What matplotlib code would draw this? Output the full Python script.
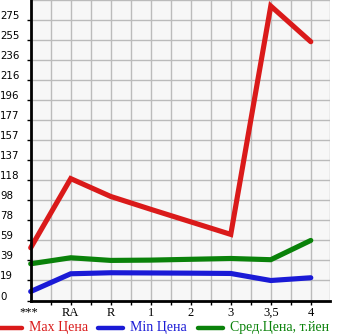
import matplotlib
matplotlib.use("Agg")
import matplotlib.pyplot as plt
from matplotlib.lines import Line2D
from matplotlib import transforms

categories = ["***", "RA", "R", "1", "2", "3", "3,5", "4"]
max_price = [51.7, 119.5, 102.0, 89.4, 77.1, 64.8, 288.7, 253.7]
min_price = [8.8, 26.2, 27.2, 27.0, 26.8, 26.5, 19.6, 22.3]
avg_price = [36.0, 41.9, 39.3, 39.6, 40.4, 41.2, 40.0, 58.9]
ytick_labels = ["0", "19", "39", "59", "78", "98", "118", "137", "157", "177",
                "196", "216", "236", "255", "275"]
legend_labels = ["Max Цена", "Min Цена", "Сред.Цена, т.йен"]

RED = "#DA1A1A"
BLUE = "#1A1AD6"
GREEN = "#0A820A"

W, H = 345, 335
fig = plt.figure(figsize=(W / 100, H / 100), dpi=100)
fig.patch.set_facecolor("white")

x0, x1 = 30.7, 330.0
ybot, ytop = 300.5, 0.0
ax = fig.add_axes([x0 / W, 1 - ybot / H, (x1 - x0) / W, (ybot - ytop) / H])
ax.set_facecolor("#F7F7F7")

step = 294.6 / 15
ax.set_ylim(0, 15 * step)
ax.set_xlim(0, 7.48)

xs = list(range(len(categories)))
for vals, c in [(max_price, RED), (min_price, BLUE), (avg_price, GREEN)]:
    ax.plot(xs, vals, color=c, lw=3.7, solid_capstyle="round",
            solid_joinstyle="miter", zorder=3, clip_on=False)

# grid
for i in range(1, 16):
    ax.axhline(i * step, color="#BBBBBB", lw=1.0, zorder=1)
for k in range(1, 15):
    ax.axvline(k * 0.5, color="#BBBBBB", lw=1.0, zorder=1)
ax.axvline(7.48, color="#BBBBBB", lw=1.0, zorder=1)

for s in ["top", "right"]:
    ax.spines[s].set_visible(False)
for s in ["left", "bottom"]:
    ax.spines[s].set_color("black")
    ax.spines[s].set_linewidth(2.0)
    ax.spines[s].set_zorder(4)

# y ticks
ax.set_yticks([i * step for i in range(15)])
ax.set_yticklabels([])
ax.tick_params(axis="y", length=3, width=1, color="black")
blend = transforms.blended_transform_factory(fig.transFigure, ax.transData)
off = transforms.offset_copy(blend, fig=fig, x=0, y=4, units="dots")
for i, lab in enumerate(ytick_labels):
    ax.text(0.0, i * step, lab, transform=off, ha="left", va="center",
            fontsize=7.4, family="DejaVu Sans", color="black", clip_on=False)

# x ticks
ax.set_xticks([k * 0.5 for k in range(1, 15)])
ax.set_xticklabels([])
ax.tick_params(axis="x", length=3, width=1, color="black")
for i, lab in enumerate(categories):
    ax.text(i, 0, lab, transform=transforms.offset_copy(ax.transData, fig=fig, x=-2 if i == 0 else 0, y=-12, units="dots"),
            ha="center", va="center", fontsize=9, family="Liberation Serif",
            color="black", clip_on=False)

# legend
ly = 1 - 327.5 / H
items = [(0, 22, 29, RED), (98, 123, 130, BLUE), (198, 223, 230, GREEN)]
for (a, b, t, c), lab in zip(items, legend_labels):
    fig.add_artist(Line2D([a / W, b / W], [ly, ly], transform=fig.transFigure,
                          color=c, lw=3.2, solid_capstyle="round"))
    fig.text(t / W, ly, lab, color=c, fontsize=10, family="Liberation Serif",
             ha="left", va="center")

fig.savefig("out.png", dpi=100)
